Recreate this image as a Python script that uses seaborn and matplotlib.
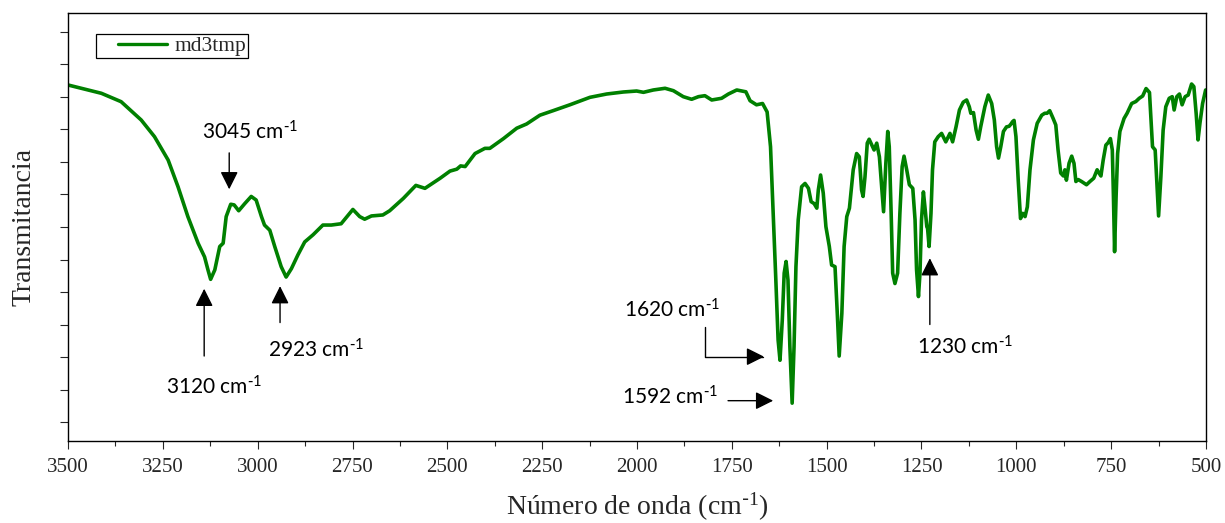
import matplotlib
matplotlib.use("Agg")
import matplotlib.pyplot as plt
import seaborn as sns
import pandas as pd
from matplotlib.legend_handler import HandlerLine2D
from matplotlib.ticker import MultipleLocator, FixedLocator

# ---------------- data ----------------
wavenumber = [
    3500, 3412, 3360, 3307, 3272, 3236, 3210, 3184, 3157, 3140, 3131, 3124, 3113, 3100,
    3091, 3083, 3071, 3062, 3050, 3034, 3017, 3004, 2990, 2982, 2968, 2955, 2938, 2925,
    2911, 2894, 2876, 2854, 2828, 2806, 2780, 2749, 2731, 2718, 2700, 2670, 2652, 2616,
    2583, 2559, 2519, 2493, 2475, 2465, 2453, 2427, 2401, 2388, 2352, 2317, 2291, 2256,
    2221, 2177, 2124, 2080, 2036, 2001, 1983, 1957, 1926, 1904, 1878, 1856, 1838, 1821,
    1803, 1777, 1759, 1737, 1713, 1702, 1685, 1669, 1657, 1648, 1641, 1634, 1628, 1623,
    1617, 1612, 1607, 1602, 1597, 1591, 1586, 1581, 1575, 1566, 1557, 1548, 1541, 1533,
    1526, 1522, 1516, 1509, 1502, 1493, 1487, 1478, 1472, 1467, 1460, 1454, 1447, 1440,
    1430, 1421, 1414, 1408, 1404, 1399, 1393, 1388, 1381, 1375, 1368, 1361, 1355, 1350,
    1344, 1339, 1335, 1330, 1326, 1320, 1313, 1307, 1301, 1296, 1289, 1282, 1273, 1267,
    1263, 1258, 1254, 1250, 1245, 1241, 1236, 1234, 1230, 1225, 1221, 1215, 1206, 1197,
    1186, 1175, 1168, 1159, 1150, 1140, 1131, 1124, 1120, 1113, 1106, 1100, 1094, 1083,
    1074, 1065, 1058, 1052, 1047, 1041, 1034, 1026, 1019, 1014, 1010, 1006, 1001, 995,
    989, 983, 977, 971, 964, 955, 945, 933, 925, 919, 912, 903, 896, 890, 883, 876, 872,
    868, 861, 854, 848, 843, 837, 828, 815, 806, 796, 787, 782, 777, 771, 764, 758, 752,
    747, 744, 741, 737, 733, 727, 716, 708, 696, 685, 676, 667, 658, 649, 645, 641, 634,
    630, 625, 619, 613, 606, 597, 589, 584, 577, 570, 563, 555, 547, 538, 532, 526, 521,
    516, 509, 501,
]
transmittance = [
    61.85, 60.57, 59.28, 56.46, 53.9, 50.3, 46.2, 41.6, 37.5, 35.4, 33.4, 31.95, 33.4, 37.0,
    37.5, 41.6, 43.5, 43.4, 42.5, 43.6, 44.7, 44.15, 41.6, 40.3, 39.5, 37.0, 33.9, 32.3,
    33.6, 35.7, 37.7, 38.8, 40.3, 40.3, 40.5, 42.7, 41.6, 41.2, 41.7, 41.85, 42.5, 44.4,
    46.4, 45.95, 47.5, 48.6, 48.9, 49.4, 49.3, 51.3, 52.1, 52.1, 53.6, 55.2, 55.85, 57.2,
    57.9, 58.8, 59.95, 60.46, 60.77, 60.92, 60.72, 61.08, 61.34, 60.97, 60.05, 59.65, 60.05, 60.2,
    59.54, 59.8, 60.46, 61.08, 60.8, 59.43, 58.8, 59.0, 57.7, 52.35, 42.1, 31.85, 22.6, 19.5,
    25.7, 32.9, 34.7, 31.85, 21.6, 12.9, 21.6, 33.9, 41.1, 46.2, 46.7, 45.95, 43.9, 43.6,
    42.9, 45.7, 48.0, 45.2, 40.05, 37.0, 34.15, 33.9, 26.7, 20.15, 26.7, 37.0, 41.6, 42.9,
    48.8, 51.3, 50.8, 45.7, 44.7, 47.7, 52.9, 53.5, 52.6, 51.85, 52.9, 50.8, 46.2, 42.35,
    49.8, 54.7, 52.35, 42.1, 32.9, 31.3, 32.9, 42.1, 49.3, 50.9, 48.8, 46.5, 45.95, 41.1,
    33.4, 29.3, 32.9, 41.1, 45.4, 43.1, 40.05, 39.8, 37.0, 42.1, 48.8, 53.1, 53.9, 54.4,
    53.1, 54.4, 53.1, 55.4, 58.0, 59.2, 59.54, 58.5, 57.5, 57.6, 54.9, 53.5, 55.4, 58.5,
    60.3, 59.0, 56.46, 52.35, 50.6, 52.35, 54.7, 55.4, 55.5, 55.85, 56.2, 56.4, 53.9, 47.2,
    41.3, 42.1, 41.6, 43.1, 48.8, 53.4, 55.95, 57.2, 57.5, 57.5, 57.9, 56.7, 55.7, 51.85, 48.3, 47.85, 48.8,
    47.2, 49.8, 50.9, 49.8, 47.0, 47.3, 47.0, 46.5, 47.0, 47.5, 48.8, 48.3, 47.85, 50.3, 52.6, 52.97, 53.6,
    51.85, 44.7, 36.2, 44.7, 51.3, 54.7, 56.7, 57.5, 59.0, 59.3, 59.8, 60.15, 61.3, 60.7, 56.46, 52.35, 51.85,
    47.2, 41.7, 47.7, 54.9, 58.5, 59.8, 60.05, 58.0, 60.05, 60.46, 58.8, 60.05, 60.3, 62.0, 61.6, 57.5, 53.4,
    55.95, 59.0, 61.08,
]

series_label = "md3tmp"
x_label = "Número de onda (cm$\\mathregular{^{\\text{-}1}}$)"
y_label = "Transmitancia"
x_ticks = [3500, 3250, 3000, 2750, 2500, 2250, 2000, 1750, 1500, 1250, 1000, 750, 500]

peak_labels = ["3045", "3120", "2923", "1620", "1592", "1230"]

# ---------------- figure ----------------
sns.set_style("white")
plt.rcParams["font.family"] = ["Liberation Serif", "DejaVu Serif"]

fig = plt.figure(figsize=(12.25, 5.23), dpi=100)
ax = fig.add_axes([68 / 1225, 1 - 441 / 523, 1138 / 1225, 428 / 523])

df = pd.DataFrame({"wn": wavenumber, "T": transmittance})
sns.lineplot(data=df, x="wn", y="T", color="#008000", lw=2.6, label=series_label,
             ax=ax, estimator=None, sort=False)

ax.set_xlim(3500, 500)
ax.set_ylim(10 - 19 / 6.5, 70 + 19 / 6.5)
ax.xaxis.set_major_locator(FixedLocator(x_ticks))
ax.xaxis.set_minor_locator(MultipleLocator(125))
ax.yaxis.set_major_locator(MultipleLocator(5))
ax.set_yticklabels([])
ax.tick_params(axis="x", which="major", direction="out", length=6, width=0.8,
               labelsize=15, pad=6, bottom=True, top=False)
ax.tick_params(axis="x", which="minor", direction="out", length=3.8, width=0.8,
               bottom=True, top=False)
ax.tick_params(axis="y", which="major", direction="out", length=6, width=0.8,
               left=True, right=False)
for s in ax.spines.values():
    s.set_linewidth(1.0)
    s.set_color("black")

ax.set_xlabel(x_label, fontsize=20, labelpad=10)
ax.set_ylabel(y_label, fontsize=20, labelpad=13)

leg = ax.legend(loc="upper left", bbox_to_anchor=(0.0246, 0.951), borderaxespad=0,
                frameon=True, fancybox=False, edgecolor="black", framealpha=1,
                fontsize=15.5, borderpad=0.1, handlelength=3.2, handletextpad=0.35,
                handler_map={plt.Line2D: HandlerLine2D(xpad=0.9)})
leg.get_frame().set_linewidth(0.9)
for ln in leg.get_lines():
    ln.set_linewidth(2.4)

# ---------------- annotations ----------------
afont = dict(family=["Lato", "DejaVu Sans"], fontsize=15, color="black",
             ha="center", va="center")
arrow = dict(arrowstyle="-|>,head_length=0.4,head_width=0.2", mutation_scale=27,
             color="black", lw=1.0, shrinkA=0, shrinkB=0)
unit = " cm$\\mathregular{^{\\text{-}1}}$"

# 3045 (arrow down)
ax.text(3020, 54.7, peak_labels[0] + unit, **afont)
ax.annotate("", xy=(3075, 45.8), xytext=(3075, 51.4), arrowprops=arrow)
# 3120 (arrow up)
ax.text(3114, 15.4, peak_labels[1] + unit, **afont)
ax.annotate("", xy=(3141, 30.5), xytext=(3141, 20.15), arrowprops=arrow)
# 2923 (arrow up)
ax.text(2846, 21.1, peak_labels[2] + unit, **afont)
ax.annotate("", xy=(2941, 30.9), xytext=(2941, 25.3), arrowprops=arrow)
# 1620 (elbow arrow)
ax.text(1908, 27.2, peak_labels[3] + unit, **afont)
ax.annotate("", xy=(1665, 20.05), xytext=(1821, 24.66),
            arrowprops=dict(arrow, connectionstyle="angle,angleA=90,angleB=0,rad=0"))
# 1592 (arrow right)
ax.text(1912, 13.9, peak_labels[4] + unit, **afont)
ax.annotate("", xy=(1641, 13.28), xytext=(1760, 13.28), arrowprops=arrow)
# 1230 (arrow up)
ax.text(1135, 21.6, peak_labels[5] + unit, **afont)
ax.annotate("", xy=(1228, 35.2), xytext=(1228, 25.0), arrowprops=arrow)

fig.savefig("out.png", dpi=100)
